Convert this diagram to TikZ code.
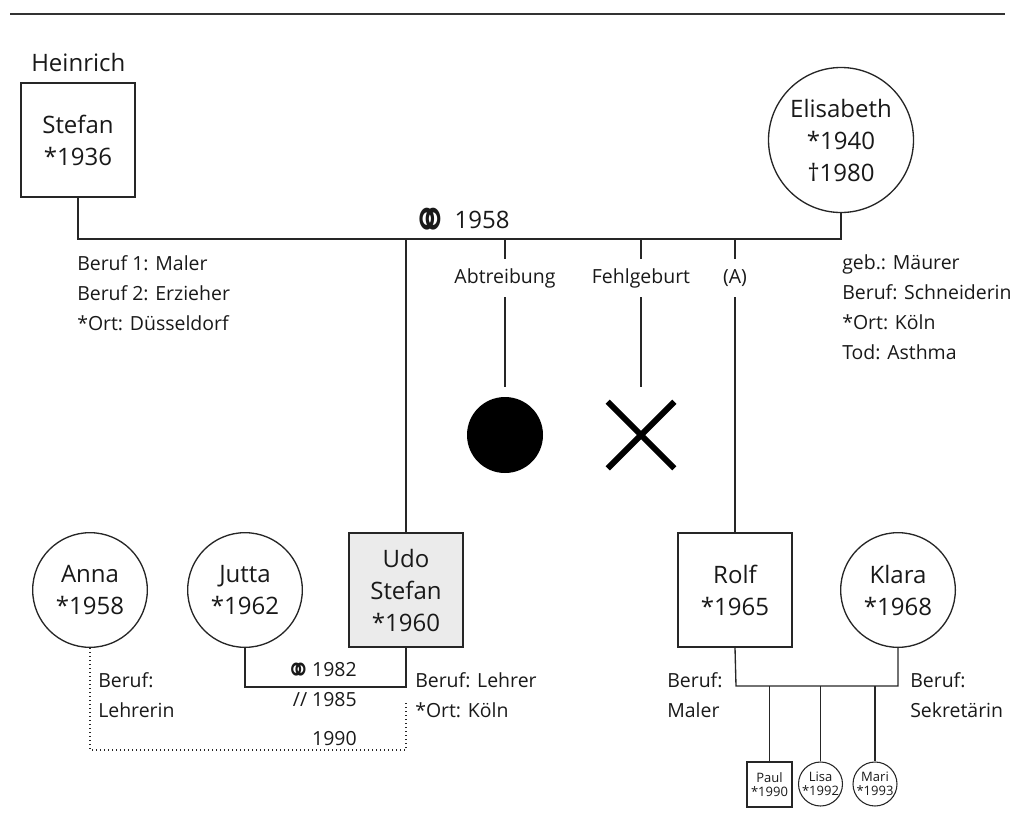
\documentclass[tikz,border=0pt]{standalone}
\usepackage{fontspec}
\usepackage{graphicx}
\setmainfont{Open Sans}
\newfontfamily\symfont{DejaVu Sans}
\usetikzlibrary{calc}

\begin{document}
\begin{tikzpicture}[x=0.75pt,y=-0.75pt,
  every node/.style={inner sep=0pt, text=black!90},
  conn/.style={line width=1pt, draw=black!85},
  namefont/.style={font=\fontsize{18}{24}\selectfont},
  person/.style={draw=black!85, line width=1pt, align=center, namefont},
  male/.style={person, rectangle, minimum size=85.5pt},
  female/.style={person, circle, minimum size=86pt},
  small/.style={font=\fontsize{14.6}{22.5}\selectfont, align=left},
  kid/.style={draw=black!85, line width=0.8pt, align=center, font=\fontsize{9.75}{10.5}\selectfont},
  stublabel/.style={small, minimum height=28.5pt},
]
\useasboundingbox (0,0) rectangle (1017,832);

% top rule
\coordinate (ruleL) at (10,14);
\coordinate (ruleR) at (1005,14);
\draw[line width=1.1pt, black!80] (ruleL) -- (ruleR);

% grandparents
\node[namefont, anchor=base west] (heinrich) at (31,71) {Heinrich};
\node[male] (stefan) at (78,140) {Stefan\\{*}1936};
\node[female, minimum size=108.75pt] (elisabeth) at (841,140) {\raisebox{-3pt}{\parbox{80pt}{\centering Elisabeth\\{*}1940\\†1980}}};

\coordinate (mline) at (78,239);
\draw[conn] (stefan.south) -- (mline) -| (elisabeth.south);
\node[namefont, anchor=base west] (m1958) at (412,228) {{\symfont\fontsize{32}{32}\selectfont\raisebox{-11pt}{\scalebox{1}[1.5]{⚭}}}\hspace{5pt}1958};

\node[small, anchor=north west] (stefaninfo) at (77,255) {Beruf 1: Maler\\Beruf 2: Erzieher\\{*}Ort: Düsseldorf};
\node[small, anchor=north west] (elisinfo) at (842,254) {geb.: Mäurer\\Beruf: Schneiderin\\{*}Ort: Köln\\Tod: Asthma};

% children of first generation
\node[male, fill=black!8] (udo) at (406,590) {Udo\\Stefan\\{*}1960};
\draw[conn] (udo.north |- mline) -- (udo.north);

\node[stublabel] (abt) at (505,278) {Abtreibung};
\node[circle, fill=black, minimum size=57pt] (abtc) at (505,435) {};
\draw[conn] (abt.north |- mline) -- (abt.north);
\draw[conn, shorten >=7.5pt] (abt.south) -- (abtc.north);

\node[stublabel] (fehl) at (641,278) {Fehlgeburt};
\node[minimum size=49.5pt] (fehlx) at (641,435) {};
\draw[line width=4.5pt, black] (fehlx.north west) -- (fehlx.south east)
  (fehlx.north east) -- (fehlx.south west);
\draw[conn] (fehl.north |- mline) -- (fehl.north);
\draw[conn] (fehl.south) -- (fehl.south |- 0,387);

\node[stublabel] (alab) at (735,278) {(A)};
\node[male] (rolf) at (735,590) {Rolf\\{*}1965};
\draw[conn] (alab.north |- mline) -- (alab.north);
\draw[conn] (alab.south) -- (rolf.north);

% partners
\node[female] (anna) at (90,590) {Anna\\{*}1958};
\node[female] (jutta) at (245,590) {Jutta\\{*}1962};
\node[female] (klara) at (898,590) {Klara\\{*}1968};

% Jutta - Udo
\coordinate (jm) at (245,687);
\draw[conn] (jutta.south) -- (jm) -| (udo.south);
\node[small, anchor=east] (m1982) at (357,673) {{\symfont\fontsize{22}{22}\selectfont\raisebox{-4.7pt}{\scalebox{1}[1.3]{⚭}}}\hspace{0.5pt}1982};
\node[small, anchor=east] (d1985) at (357,700) {// 1985};

% Anna - Udo
\coordinate (ad) at (90,750);
\coordinate (udot) at (406,702);
\draw[conn, dotted, line width=0.9pt] (anna.south) -- (ad) -| (udot);
\node[small, anchor=east] (y1990) at (357,739) {1990};

\node[small, anchor=north west] (annainfo) at (98,672) {Beruf:\\Lehrerin};
\node[small, anchor=north west] (udoinfo) at (415,672) {Beruf: Lehrer\\{*}Ort: Köln};
\node[small, anchor=north west] (rolfinfo) at (667,672) {Beruf:\\Maler};
\node[small, anchor=north west] (klarainfo) at (910,672) {Beruf:\\Sekretärin};

% Rolf - Klara and kids
\coordinate (rk) at (736,686);
\draw[conn] (rolf.south) -- (rk) -| (klara.south);
\node[kid, rectangle, minimum size=33.75pt] (paul) at (769.5,784.5) {Paul\\{*}1990};
\node[kid, circle, minimum size=33pt] (lisa) at (820.5,784) {Lisa\\{*}1992};
\node[kid, circle, minimum size=33pt] (mari) at (875,784) {Mari\\{*}1993};
\draw[conn] (paul.north |- rk) -- (paul.north);
\draw[conn] (lisa.north |- rk) -- (lisa.north);
\draw[conn] (mari.north |- rk) -- (mari.north);
\end{tikzpicture}
\end{document}
